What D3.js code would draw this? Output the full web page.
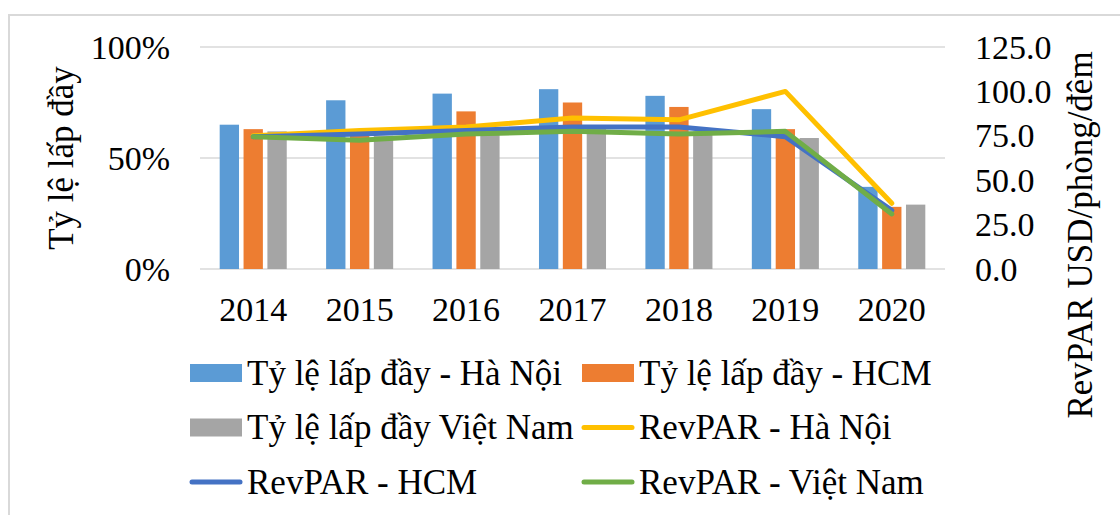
<!DOCTYPE html>
<html>
<head>
<meta charset="utf-8">
<script src="https://cdn.jsdelivr.net/npm/d3@7"></script>
<style>
  body { margin:0; background:#fff; }
  text { font-family: "Liberation Serif", "Times New Roman", serif; fill:#000; }
</style>
</head>
<body>
<svg id="chart" width="1120" height="515"></svg>
<script>
// data
const years = ["2014","2015","2016","2017","2018","2019","2020"];
const occHN  = [0.65,0.76,0.79,0.81,0.78,0.72,0.37];
const occHCM = [0.63,0.63,0.71,0.75,0.73,0.63,0.28];
const occVN  = [0.62,0.60,0.62,0.63,0.62,0.59,0.29];
const revHN  = [75,78,80,85,84,100,37];
const revHCM = [74.5,76,78,80,80,74.5,33];
const revVN  = [74.5,72.5,76,77.5,76,77.5,31];
const leftTicks  = [0,0.5,1];
const rightTicks = [0,25,50,75,100,125];

const barSeries = [
  {name:"Tỷ lệ lấp đầy - Hà Nội", values:occHN,  color:"#5B9BD5"},
  {name:"Tỷ lệ lấp đầy - HCM",    values:occHCM, color:"#ED7D31"},
  {name:"Tỷ lệ lấp đầy Việt Nam", values:occVN,  color:"#A5A5A5"}
];
const lineSeries = [
  {name:"RevPAR - Hà Nội",   values:revHN,  color:"#FFC000"},
  {name:"RevPAR - HCM",      values:revHCM, color:"#4472C4"},
  {name:"RevPAR - Việt Nam", values:revVN,  color:"#70AD47"}
];

const svg = d3.select('#chart');
const fs = 34, fsBig = 35;

// frame
svg.append('rect')
  .attr('x',9).attr('y',15).attr('width',1130).attr('height',530)
  .attr('fill','none').attr('stroke','#d9d9d9').attr('stroke-width',2);

const plot = {l:200, r:945, t:47, b:269};

const x = d3.scaleBand().domain(years).range([plot.l,plot.r])
  .paddingInner(0.37).paddingOuter(0.185);
const xs = d3.scaleBand().domain(d3.range(barSeries.length))
  .range([0,x.bandwidth()]).paddingInner(0.19);
const yL = d3.scaleLinear().domain([0,1]).range([plot.b,plot.t]);
const yR = d3.scaleLinear().domain([0,125]).range([plot.b,plot.t]);

// gridlines
svg.append('g').selectAll('line').data(leftTicks).enter().append('line')
  .attr('x1',plot.l).attr('x2',plot.r)
  .attr('y1',d=>yL(d)).attr('y2',d=>yL(d))
  .attr('stroke','#d9d9d9').attr('stroke-width',1.5);

// left axis labels
svg.append('g').selectAll('text').data(leftTicks).enter().append('text')
  .attr('x',170).attr('y',d=>yL(d)).attr('dy','0.34em')
  .attr('text-anchor','end').style('font-size',fs+'px')
  .text(d=>d3.format('.0%')(d));

// right axis labels
svg.append('g').selectAll('text').data(rightTicks).enter().append('text')
  .attr('x',975).attr('y',d=>yR(d)).attr('dy','0.34em')
  .attr('text-anchor','start').style('font-size',fs+'px')
  .text(d=>d3.format('.1f')(d));

// x labels
svg.append('g').selectAll('text').data(years).enter().append('text')
  .attr('x',d=>x(d)+x.bandwidth()/2).attr('y',321)
  .attr('text-anchor','middle').style('font-size',fs+'px')
  .text(d=>d);

// axis titles
svg.append('text')
  .attr('transform','translate(73,158) rotate(-90)')
  .attr('text-anchor','middle').style('font-size',fsBig+'px')
  .text('Tỷ lệ lấp đầy');
svg.append('text')
  .attr('transform','translate(1092,235) rotate(-90)')
  .attr('text-anchor','middle').style('font-size',fsBig+'px')
  .text('RevPAR USD/phòng/đêm');

// bars
barSeries.forEach((s,i) => {
  svg.append('g').selectAll('rect').data(s.values).enter().append('rect')
    .attr('x',(d,j)=>x(years[j])+xs(i))
    .attr('width',xs.bandwidth())
    .attr('y',d=>yL(d))
    .attr('height',d=>yL(0)-yL(d))
    .attr('fill',s.color);
});

// lines
const line = d3.line()
  .x((d,j)=>x(years[j])+x.bandwidth()/2)
  .y(d=>yR(d));
lineSeries.forEach(s => {
  svg.append('path').datum(s.values)
    .attr('d',line).attr('fill','none')
    .attr('stroke',s.color).attr('stroke-width',5)
    .attr('stroke-linejoin','round').attr('stroke-linecap','round');
});

// legend
const legendItems = [
  {s:barSeries[0], type:'bar'}, {s:barSeries[1], type:'bar'},
  {s:barSeries[2], type:'bar'}, {s:lineSeries[0], type:'line'},
  {s:lineSeries[1], type:'line'}, {s:lineSeries[2], type:'line'}
];
const colX = [190,582], rowY = [373,427.5,482];
const lg = svg.append('g');
legendItems.forEach((it,k) => {
  const cx = colX[k%2], cy = rowY[Math.floor(k/2)];
  if (it.type==='bar') {
    lg.append('rect').attr('x',cx).attr('y',cy-9).attr('width',52).attr('height',18)
      .attr('fill',it.s.color);
  } else {
    lg.append('line').attr('x1',cx+2).attr('x2',cx+50).attr('y1',cy).attr('y2',cy)
      .attr('stroke',it.s.color).attr('stroke-width',5).attr('stroke-linecap','round');
  }
  lg.append('text').attr('x',cx+57).attr('y',cy).attr('dy','0.34em')
    .style('font-size',fsBig+'px').text(it.s.name);
});
</script>
</body>
</html>
